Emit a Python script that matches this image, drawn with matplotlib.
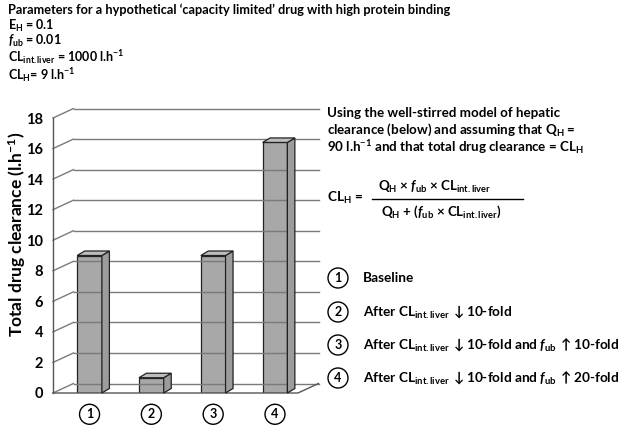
import matplotlib
matplotlib.use("Agg")
import matplotlib.pyplot as plt
from matplotlib.patches import Polygon
from matplotlib.lines import Line2D
from matplotlib.transforms import IdentityTransform
import numpy as np

# ---- data ----
categories = ['1', '2', '3', '4']
clearance = [9.0, 1.0, 9.0, 16.4]
y_ticks = [0, 2, 4, 6, 8, 10, 12, 14, 16, 18]
legend_labels = [
    'Baseline',
    r'After CL$_{int.liver}$ $\downarrow$10-fold',
    r'After CL$_{int.liver}$ $\downarrow$10-fold and $\mathit{f}_{ub}$ $\uparrow$10-fold',
    r'After CL$_{int.liver}$ $\downarrow$10-fold and $\mathit{f}_{ub}$ $\uparrow$20-fold',
]
header_lines = [
    "Parameters for a hypothetical \u2018capacity limited\u2019 drug with high protein binding",
    r"E$_H$ = 0.1",
    r"$\mathit{f}_{ub}$ = 0.01",
    r"CL$_{int.liver}$ = 1000 l.h$^{-1}$",
    r"CL$_H$= 9 l.h$^{-1}$",
]

plt.rcParams['font.family'] = ['Lato', 'DejaVu Sans']
plt.rcParams['font.weight'] = 'bold'
plt.rcParams['mathtext.fontset'] = 'custom'
plt.rcParams['mathtext.default'] = 'regular'
plt.rcParams['mathtext.rm'] = 'Lato:bold'
plt.rcParams['mathtext.it'] = 'Lato:bold:italic'
plt.rcParams['mathtext.bf'] = 'Lato:bold'

W, H = 624, 425
fig = plt.figure(figsize=(W / 100, H / 100), dpi=100)

def fx(px):
    return px / W

def fy(py):
    return 1 - py / H

# axes: front floor from x=53..298 px, y 0 at 393 px, 18 at 118 px
ax = fig.add_axes([fx(53), fy(393), (298 - 53) / W, (393 - 118) / H])
ax.set_xlim(0.409, 4.372)
ax.set_ylim(0, 18)
ax.patch.set_visible(False)
for s in ax.spines.values():
    s.set_visible(False)

# depth offsets in pixels
DX, DY = 20.5, 9.5      # wall depth
BDX, BDY = 7.5, 4.5     # bar depth
grid_col = '#7a7a7a'

def px(x, y, depth=0.0, bdepth=0.0):
    X, Y = ax.transData.transform((x, y))
    return (X + depth * DX + bdepth * BDX, Y + depth * DY + bdepth * BDY)

x0, x1 = ax.get_xlim()
ident = IdentityTransform()

# back wall gridlines + left diagonals
for v in y_ticks:
    a = px(x0, v, 1)
    b = px(x1, v, 1)
    c = px(x0, v, 0)
    fig.add_artist(Line2D([a[0], b[0]], [a[1], b[1]], transform=ident,
                          color=grid_col, lw=1.0, zorder=1))
    fig.add_artist(Line2D([c[0], a[0]], [c[1], a[1]], transform=ident,
                          color=grid_col, lw=1.0, zorder=1))

# front left axis line
p_top = px(x0, 18)
p_bot = px(x0, 0)
fig.add_artist(Line2D([p_bot[0], p_top[0]], [p_bot[1], p_top[1]], transform=ident,
                      color='#555555', lw=1.0, zorder=1))
# floor front edge and right diagonal
fr = px(x1, 0)
br = px(x1, 0, 1)
fig.add_artist(Line2D([p_bot[0], fr[0], br[0]], [p_bot[1], fr[1], br[1]], transform=ident,
                      color='#555555', lw=1.0, zorder=1))

# bars
pos = np.arange(1, len(categories) + 1)
bw = 0.40
ax.bar(pos, clearance, width=bw, color='#a8a8a8', edgecolor='#222222',
       linewidth=0.9, zorder=3)
for xc, h in zip(pos, clearance):
    xl, xr = xc - bw / 2, xc + bw / 2
    side = [px(xr, 0), px(xr, 0, 0, 1), px(xr, h, 0, 1), px(xr, h)]
    top = [px(xl, h), px(xr, h), px(xr, h, 0, 1), px(xl, h, 0, 1)]
    fig.add_artist(Polygon(side, closed=True, transform=ident, facecolor='#9c9c9c',
                           edgecolor='#222222', lw=0.9, zorder=4))
    fig.add_artist(Polygon(top, closed=True, transform=ident, facecolor='#bdbdbd',
                           edgecolor='#222222', lw=0.9, zorder=4))

# ticks
ax.set_yticks(y_ticks)
ax.set_yticklabels([str(t) for t in y_ticks], fontsize=10.5, fontweight='bold')
ax.tick_params(axis='y', length=0, pad=7)
ax.set_xticks(pos)
ax.set_xticklabels(categories, fontsize=9, fontweight='bold')
ax.tick_params(axis='x', length=0, pad=11)
for t in ax.get_xticklabels():
    t.set_bbox(dict(boxstyle='circle,pad=0.32', facecolor='white', edgecolor='black', lw=1.0))

ax.set_ylabel('Total drug clearance (l.h$^{-1}$)', fontsize=12.5, fontweight='bold',
              va='center', ha='center')
ax.yaxis.set_label_coords((17 - 53) / (298 - 53), (393 - 234) / (393 - 118))

# header
hy = [10, 26, 41, 57, 75]
hs = [9.2, 9.0, 9.0, 9.0, 9.0]
for txt, y, s in zip(header_lines, hy, hs):
    fig.text(fx(8), fy(y), txt, fontsize=s, fontweight='bold', ha='left', va='center')

# right explanatory text
expl = ["Using the well-stirred model of hepatic",
        r"clearance (below) and assuming that Q$_H$ =",
        r"90 l.h$^{-1}$ and that total drug clearance = CL$_H$"]
for txt, y in zip(expl, [113, 130, 147]):
    fig.text(fx(327), fy(y), txt, fontsize=9.6, fontweight='bold', ha='left', va='center')

fig.text(fx(327), fy(198), r"CL$_H$ =", fontsize=9.8, fontweight='bold', ha='left', va='center')
fig.text(fx(435), fy(187), r"Q$_H$ $\times$ $\mathit{f}_{ub}$ $\times$ CL$_{int.liver}$",
         fontsize=9.6, fontweight='bold', ha='center', va='center')
fig.text(fx(441), fy(212), r"Q$_H$ + ($\mathit{f}_{ub}$ $\times$ CL$_{int.liver}$)",
         fontsize=9.6, fontweight='bold', ha='center', va='center')
fig.add_artist(Line2D([fx(372), fx(523)], [fy(199), fy(199)], transform=fig.transFigure,
                      color='black', lw=1.0))

# legend list
ly = [278, 312, 345, 378]
for i, (lab, y) in enumerate(zip(legend_labels, ly)):
    fig.text(fx(338), fy(y), categories[i], fontsize=9, fontweight='bold', ha='center', va='center',
             bbox=dict(boxstyle='circle,pad=0.32', facecolor='white', edgecolor='black', lw=1.0))
    fig.text(fx(363), fy(y), lab, fontsize=9.8, fontweight='bold', ha='left', va='center')

fig.savefig('out.png', dpi=100)
